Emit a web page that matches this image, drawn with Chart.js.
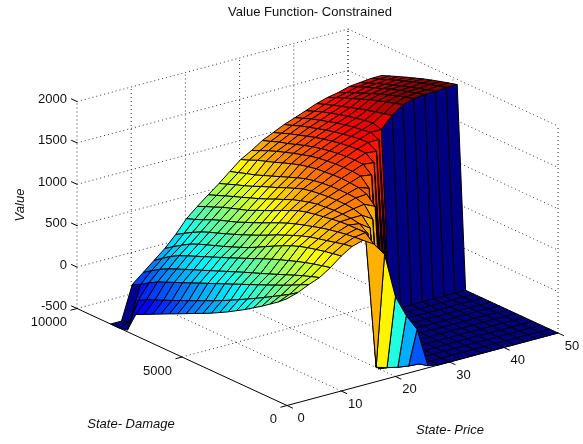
<!DOCTYPE html>
<html>
<head>
<meta charset="utf-8">
<title>Value Function- Constrained</title>
<script src="https://cdn.jsdelivr.net/npm/chart.js@4"></script>
<style>
    html, body { margin: 0; padding: 0; background: #fff; }
    canvas { display: block; }
</style>
</head>
<body>
<canvas id="chart" width="583" height="444"></canvas>
<script>
const titleText = 'Value Function- Constrained';
const priceLabel = 'State- Price';
const damageLabel = 'State- Damage';
const valueLabel = 'Value';

const priceTicks = [0, 10, 20, 30, 40, 50];
const damageTicks = [0, 5000, 10000];
const valueTicks = [-500, 0, 500, 1000, 1500, 2000];

const prices = [0, 2, 4, 6, 8, 10, 12, 14, 16, 18, 20, 22, 24, 26, 28, 30, 32, 34, 36, 38, 40, 42, 44, 46, 48, 50];
const damages = [0, 400, 800, 1200, 1600, 2000, 2400, 2800, 3200, 3600, 4000, 4400, 4800, 5200, 5600, 6000, 6400, 6800, 7200, 7600, 8000, 8400];

// one row per price, one column per damage
const values = [
    [790, 705, 632, 559, 492, 425, 364, 303, 248, 193, 144, 96, 47, -2, -50, -99, -148, -197, -245, -480, -500, -500],
    [829, 760, 700, 640, 582, 525, 470, 415, 362, 310, 262, 215, 168, 122, 76, 30, -14, -58, -102, -157, -460, -500],
    [890, 840, 790, 742, 696, 650, 606, 562, 518, 474, 430, 386, 342, 298, 254, 210, 166, 122, 78, 20, -45, -93],
    [940, 905, 868, 828, 786, 744, 702, 662, 622, 582, 540, 498, 456, 414, 372, 330, 288, 246, 200, 150, 85, 17],
    [1025, 1000, 975, 945, 912, 875, 838, 798, 756, 712, 668, 624, 580, 538, 496, 454, 412, 370, 325, 270, 200, 127],
    [1130, 1112, 1092, 1068, 1043, 1012, 972, 925, 875, 822, 768, 716, 672, 630, 590, 552, 515, 476, 430, 370, 305, 237],
    [1210, 1190, 1165, 1140, 1115, 1090, 1055, 1015, 972, 928, 878, 830, 785, 742, 700, 660, 622, 585, 542, 490, 432, 370],
    [1250, 1240, 1228, 1210, 1190, 1165, 1135, 1105, 1072, 1035, 992, 945, 897, 853, 810, 766, 730, 695, 655, 607, 565, 527],
    [1170, 1260, 1260, 1258, 1250, 1235, 1218, 1200, 1180, 1150, 1105, 1060, 1010, 965, 920, 873, 840, 805, 770, 725, 685, 640],
    [1010, -400, 1170, 1240, 1258, 1262, 1260, 1250, 1240, 1218, 1188, 1155, 1110, 1068, 1022, 980, 942, 902, 865, 825, 785, 745],
    [466, -440, -500, 1150, 1260, 1290, 1300, 1300, 1295, 1285, 1270, 1250, 1210, 1170, 1125, 1085, 1045, 1000, 960, 925, 885, 847],
    [200, -470, -500, -500, 1180, 1310, 1340, 1345, 1345, 1340, 1330, 1315, 1290, 1255, 1215, 1175, 1135, 1095, 1055, 1025, 990, 957],
    [0, -490, -500, -500, -500, 1250, 1350, 1385, 1395, 1400, 1395, 1385, 1375, 1355, 1330, 1295, 1260, 1220, 1185, 1150, 1105, 1066],
    [-475, -500, -500, -500, -500, -500, -500, 1340, 1440, 1450, 1450, 1445, 1435, 1420, 1400, 1370, 1340, 1305, 1270, 1230, 1185, 1140],
    [-500, -500, -500, -500, -500, -500, -500, -500, 1420, 1500, 1505, 1500, 1490, 1475, 1455, 1430, 1400, 1365, 1330, 1300, 1262, 1226],
    [-500, -500, -500, -500, -500, -500, -500, -500, -500, 1485, 1555, 1555, 1545, 1530, 1510, 1488, 1462, 1430, 1396, 1365, 1325, 1287],
    [-500, -500, -500, -500, -500, -500, -500, -500, -500, -500, 1540, 1600, 1595, 1580, 1560, 1540, 1515, 1485, 1455, 1425, 1385, 1348],
    [-500, -500, -500, -500, -500, -500, -500, -500, -500, -500, -500, 1600, 1640, 1625, 1608, 1590, 1565, 1535, 1505, 1475, 1435, 1396],
    [-500, -500, -500, -500, -500, -500, -500, -500, -500, -500, -500, -500, 1640, 1670, 1655, 1635, 1612, 1585, 1555, 1525, 1485, 1446],
    [-500, -500, -500, -500, -500, -500, -500, -500, -500, -500, -500, -500, 1775, 1750, 1725, 1697, 1669, 1636, 1603, 1569, 1533, 1497],
    [-500, -500, -500, -500, -500, -500, -500, -500, -500, -500, -500, -500, 1869, 1839, 1809, 1775, 1742, 1702, 1662, 1622, 1578, 1535],
    [-500, -500, -500, -500, -500, -500, -500, -500, -500, -500, -500, -500, 1909, 1878, 1846, 1811, 1776, 1735, 1693, 1651, 1605, 1560],
    [-500, -500, -500, -500, -500, -500, -500, -500, -500, -500, -500, -500, 1923, 1894, 1865, 1832, 1800, 1760, 1722, 1683, 1640, 1598],
    [-500, -500, -500, -500, -500, -500, -500, -500, -500, -500, -500, -500, 1924, 1896, 1868, 1836, 1805, 1768, 1730, 1692, 1652, 1611],
    [-500, -500, -500, -500, -500, -500, -500, -500, -500, -500, -500, -500, 1937, 1909, 1881, 1849, 1818, 1781, 1743, 1705, 1665, 1624],
    [-500, -500, -500, -500, -500, -500, -500, -500, -500, -500, -500, -500, 1938, 1910, 1882, 1851, 1819, 1782, 1745, 1707, 1667, 1626]
];

const valueMin = -500;
const valueMax = 2000;
const priceMax = 50;
const damageMax = 10000;
const colorMax = 1880;

// the 3d box, as seen on the page
function project(p, d, v) {
    return {
        x: 287 + 271 * p / priceMax - 210 * d / damageMax,
        y: 405.5 - 72.5 * p / priceMax - 97 * d / damageMax - 207 * (v - valueMin) / (valueMax - valueMin)
    };
}

function jet(v) {
    let f = (v - valueMin) / (colorMax - valueMin);
    f = Math.min(1, Math.max(0, f));
    let r = Math.min(1, Math.max(0, Math.min(4 * f - 1.5, 4.5 - 4 * f)));
    let g = Math.min(1, Math.max(0, Math.min(4 * f - 0.5, 3.5 - 4 * f)));
    let b = Math.min(1, Math.max(0, Math.min(4 * f + 0.5, 2.5 - 4 * f)));
    return `rgb(${Math.round(r * 255)},${Math.round(g * 255)},${Math.round(b * 255)})`;
}

function gridLine(from, to) {
    return {
        data: [project(...from), project(...to)],
        showLine: true,
        borderColor: '#333',
        borderWidth: 1,
        borderDash: [1, 3],
        pointRadius: 0,
        fill: false,
        clip: false
    };
}

function axisLine(from, to) {
    return {
        data: [from, to],
        showLine: true,
        borderColor: '#000',
        borderWidth: 1,
        pointRadius: 0,
        fill: false,
        clip: false
    };
}

// Chart.js paints the first dataset last, so nearest cells go in first
let datasets = [];

for (let i = 0; i < prices.length - 1; i++) {
    for (let j = 0; j < damages.length - 1; j++) {
        let corners = [
            project(prices[i], damages[j], values[i][j]),
            project(prices[i + 1], damages[j], values[i + 1][j]),
            project(prices[i + 1], damages[j + 1], values[i + 1][j + 1]),
            project(prices[i], damages[j + 1], values[i][j + 1])
        ];
        corners.push(corners[0]);
        datasets.push({
            data: corners,
            showLine: true,
            fill: 'shape',
            backgroundColor: jet(values[i][j]),
            borderColor: '#000',
            borderWidth: 1,
            pointRadius: 0,
            clip: false
        });
    }
}

// axes and tick marks
datasets.push(axisLine(project(0, 0, valueMin), project(priceMax, 0, valueMin)));
datasets.push(axisLine(project(0, 0, valueMin), project(0, damageMax, valueMin)));

priceTicks.forEach(function(t) {
    datasets.push(axisLine(project(t, 0, valueMin), project(t, -280, valueMin)));
});
damageTicks.forEach(function(t) {
    datasets.push(axisLine(project(0, t, valueMin), project(-1.2, t, valueMin)));
});
valueTicks.forEach(function(t) {
    datasets.push(axisLine(project(0, damageMax, t), project(0, damageMax + 280, t)));
});

// dotted grid on the floor and the two back walls
priceTicks.forEach(function(t) {
    if (t > 0) datasets.push(gridLine([t, 0, valueMin], [t, damageMax, valueMin]));
    datasets.push(gridLine([t, damageMax, valueMin], [t, damageMax, valueMax]));
});
damageTicks.forEach(function(t) {
    if (t > 0) datasets.push(gridLine([0, t, valueMin], [priceMax, t, valueMin]));
    datasets.push(gridLine([priceMax, t, valueMin], [priceMax, t, valueMax]));
});
valueTicks.forEach(function(t) {
    if (t > valueMin) {
        datasets.push(gridLine([0, damageMax, t], [priceMax, damageMax, t]));
        datasets.push(gridLine([priceMax, damageMax, t], [priceMax, 0, t]));
    }
});

function put(ctx, text, x, y, align, font, angle) {
    ctx.save();
    ctx.translate(x, y);
    if (angle) ctx.rotate(angle);
    ctx.font = font;
    ctx.fillStyle = '#111';
    ctx.textAlign = align;
    ctx.textBaseline = 'middle';
    ctx.fillText(text, 0, 0);
    ctx.restore();
}

const boxText = {
    id: 'boxText',
    afterDraw: function(chart) {
        let ctx = chart.ctx;
        let sx = chart.scales.x;
        let sy = chart.scales.y;
        let font = '13px "Liberation Sans"';
        let italic = 'italic 13px "Liberation Sans"';

        priceTicks.forEach(function(t) {
            let q = project(t, 0, valueMin);
            put(ctx, String(t), sx.getPixelForValue(q.x) + 14, sy.getPixelForValue(q.y) + 13, 'center', font);
        });
        damageTicks.forEach(function(t) {
            let q = project(0, t, valueMin);
            put(ctx, String(t), sx.getPixelForValue(q.x) - 10, sy.getPixelForValue(q.y) + 14, 'right', font);
        });
        valueTicks.forEach(function(t) {
            let q = project(0, damageMax, t);
            put(ctx, String(t), sx.getPixelForValue(q.x) - 10, sy.getPixelForValue(q.y) - 2, 'right', font);
        });

        put(ctx, titleText, 310, 12, 'center', font);
        put(ctx, damageLabel, 131, 424, 'center', italic);
        put(ctx, priceLabel, 450, 430, 'center', italic);
        put(ctx, valueLabel, 20, 205, 'center', italic, -Math.PI / 2);
    }
};

new Chart(document.getElementById('chart').getContext('2d'), {
    type: 'scatter',
    data: { datasets: datasets },
    options: {
        responsive: false,
        animation: false,
        events: [],
        layout: { padding: 0 },
        scales: {
            x: { type: 'linear', min: 0, max: 583, display: false },
            y: { type: 'linear', min: 0, max: 444, reverse: true, display: false }
        },
        plugins: {
            legend: { display: false },
            tooltip: { enabled: false },
            title: { display: false }
        }
    },
    plugins: [boxText]
});
</script>
</body>
</html>
